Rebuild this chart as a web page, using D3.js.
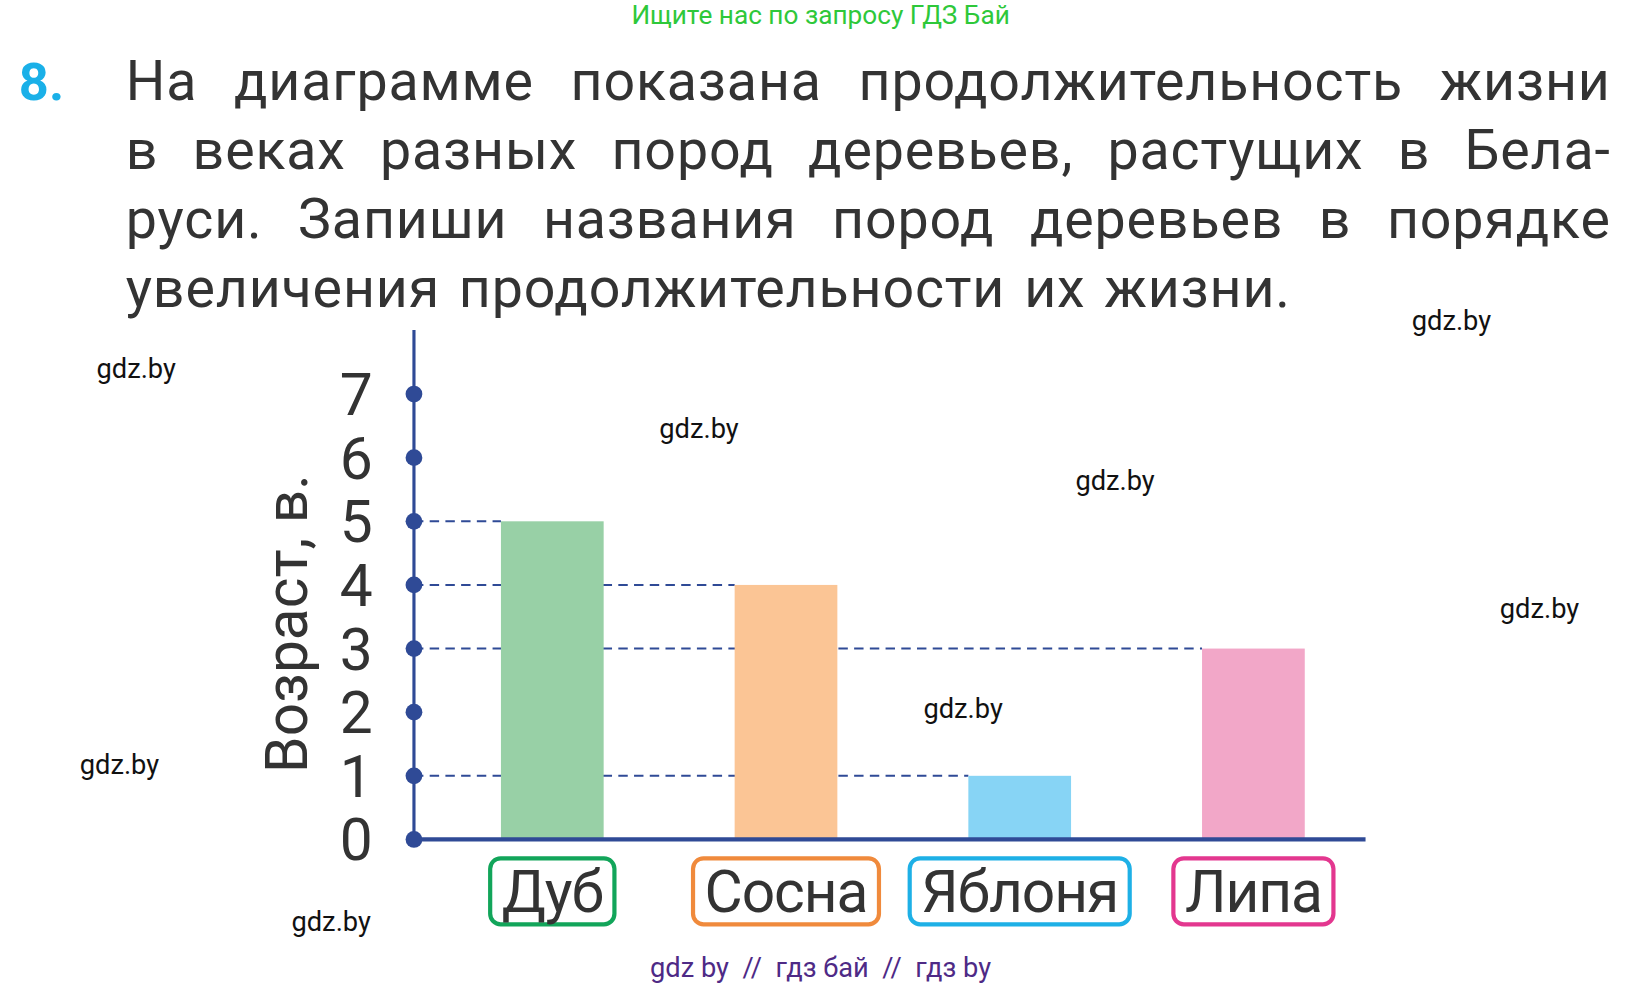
<!DOCTYPE html>
<html><head><meta charset="utf-8">
<script src="https://cdn.jsdelivr.net/npm/d3@7"></script>
<style>body{margin:0;background:#fff}text{font-family:Roboto,sans-serif}</style>
</head><body>
<svg id="c" width="1644" height="990"></svg>
<script>
// Data
var trees   = ['Дуб', 'Сосна', 'Яблоня', 'Липа'];
var ages    = [5, 4, 1, 3];
var fills   = ['#98d0a6', '#fbc595', '#87d4f5', '#f2a7c8'];
var borders = ['#12a55a', '#f08a3c', '#1eb0e6', '#e3378f'];
var yTicks  = [0, 1, 2, 3, 4, 5, 6, 7];

var titleLines = [
  'На диаграмме показана продолжительность жизни',
  'в веках разных пород деревьев, растущих в Бела-',
  'руси. Запиши названия пород деревьев в порядке',
  'увеличения продолжительности их жизни.'
];
var marks = [[1385,315],[130,361],[667,418],[1064,468],[1469,590],[919,685],[114,739],[316,888]];

var svg = d3.select('#c').append('g').attr('transform', 'scale(1.048)');
var navy = '#2f4a96';

// Header
svg.append('text').attr('x', 783).attr('y', 23).attr('text-anchor', 'middle')
  .style('font-size', '25px').style('fill', '#2ec83a').text('Ищите нас по запросу ГДЗ Бай');
svg.append('text').attr('x', 18).attr('y', 95).style('font-size', '50px')
  .style('font-weight', 'bold').style('fill', '#1ab0e8').text('8.');

// Justified title
var x0 = 120, x1 = 1537;
titleLines.forEach(function(line, i) {
  var words = line.split(' ');
  var g = svg.append('g');
  var nodes = words.map(function(w) {
    return g.append('text').attr('y', 95 + i * 66).style('font-size', '53px')
      .style('fill', '#333').style('letter-spacing', '0.8px').text(w);
  });
  var widths = nodes.map(function(n) { return n.node().getComputedTextLength(); });
  var total = d3.sum(widths);
  var gap = i < titleLines.length - 1 ? (x1 - x0 - total) / (words.length - 1) : 18;
  var x = x0;
  nodes.forEach(function(n, k) { n.attr('x', x); x += widths[k] + gap; });
});

// Scales
var y = d3.scaleLinear().domain([0, 7]).range([801, 376]);
var x = d3.scaleBand().domain(trees).range([478, 1245]).paddingInner(0.5605).paddingOuter(0);

// Dashed guides
trees.forEach(function(t, i) {
  svg.append('line').attr('x1', 395).attr('x2', x(t)).attr('y1', y(ages[i])).attr('y2', y(ages[i]))
    .attr('stroke', navy).attr('stroke-width', 2).attr('stroke-dasharray', '9,6');
});

// Bars
svg.selectAll('rect.bar').data(trees).enter().append('rect').attr('class', 'bar')
  .attr('x', function(d) { return x(d); }).attr('width', x.bandwidth())
  .attr('y', function(d, i) { return y(ages[i]); })
  .attr('height', function(d, i) { return y(0) - y(ages[i]); })
  .attr('fill', function(d, i) { return fills[i]; });

// Axes
svg.append('line').attr('x1', 395).attr('x2', 395).attr('y1', 315).attr('y2', 801)
  .attr('stroke', navy).attr('stroke-width', 3);
svg.append('line').attr('x1', 395).attr('x2', 1303).attr('y1', 801).attr('y2', 801)
  .attr('stroke', navy).attr('stroke-width', 4);
yTicks.forEach(function(v) {
  svg.append('circle').attr('cx', 395).attr('cy', y(v)).attr('r', 8).attr('fill', navy);
  svg.append('text').attr('x', 340).attr('y', y(v) + 20).attr('text-anchor', 'middle')
    .style('font-size', '56px').style('fill', '#333').text(v);
});
svg.append('text').attr('transform', 'translate(293,595) rotate(-90)').attr('text-anchor', 'middle')
  .style('font-size', '56px').style('fill', '#333').text('Возраст, в.');

// Category labels in boxes
trees.forEach(function(t, i) {
  var cx = x(t) + x.bandwidth() / 2;
  var g = svg.append('g');
  var txt = g.append('text').attr('x', cx).attr('y', 870).attr('text-anchor', 'middle')
    .style('font-size', '56px').style('fill', '#333').style('letter-spacing', '-1px').text(t);
  var w = txt.node().getComputedTextLength() + 22;
  g.insert('rect', ':first-child').attr('x', cx - w / 2).attr('y', 819).attr('width', w)
    .attr('height', 63).attr('rx', 10).attr('fill', 'none')
    .attr('stroke', borders[i]).attr('stroke-width', 4);
});

// Watermarks
marks.forEach(function(m) {
  svg.append('text').attr('x', m[0]).attr('y', m[1]).attr('text-anchor', 'middle')
    .style('font-size', '26px').style('fill', '#111').text('gdz.by');
});
svg.append('text').attr('x', 783).attr('y', 932).attr('text-anchor', 'middle')
  .style('font-size', '26px').style('fill', '#4e2a86').attr('xml:space', 'preserve')
  .text('gdz by  //  гдз бай  //  гдз by');
</script>
</body></html>
